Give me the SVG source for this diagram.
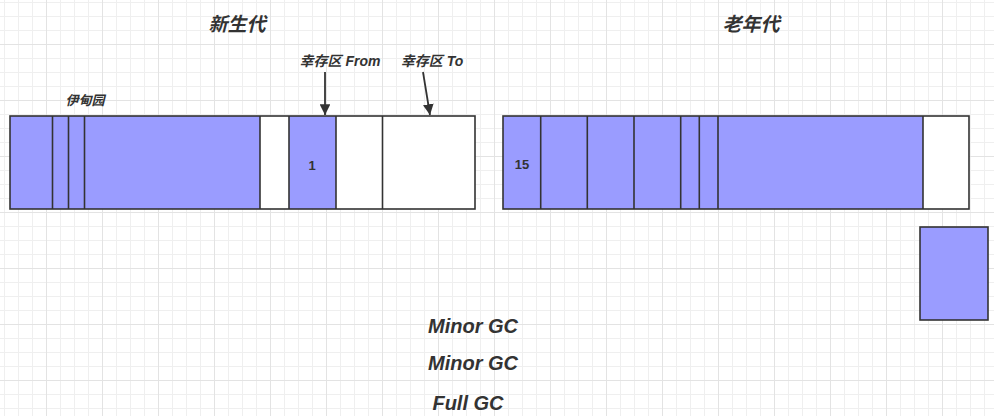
<svg xmlns="http://www.w3.org/2000/svg" width="994" height="416" viewBox="0 0 994 416">
<style>
.t{font-family:"Liberation Sans","Noto Sans CJK SC",sans-serif;font-weight:bold;font-style:italic;fill:#333}
.cell{stroke:#333;stroke-width:1.6}
.b{fill:#9a9cff}
.w{fill:#fff}
.div{stroke:#333;stroke-width:1.6}
.num{font-family:"Liberation Sans",sans-serif;font-weight:bold;font-size:13px;fill:#333;text-anchor:middle}
.arr{stroke:#333;stroke-width:1.8;fill:none}
</style>
<defs>
<pattern id="grid" patternUnits="userSpaceOnUse" x="46" y="44" width="56" height="56">
<rect x="14" y="0" width="1" height="56" fill="#efefef"/>
<rect x="28" y="0" width="1" height="56" fill="#efefef"/>
<rect x="42" y="0" width="1" height="56" fill="#efefef"/>
<rect x="0" y="14" width="56" height="1" fill="#efefef"/>
<rect x="0" y="28" width="56" height="1" fill="#efefef"/>
<rect x="0" y="42" width="56" height="1" fill="#efefef"/>
<rect x="0" y="0" width="1" height="56" fill="#e3e3e3"/>
<rect x="0" y="0" width="56" height="1" fill="#e3e3e3"/>
</pattern>
<marker id="ah" viewBox="0 0 10 10" refX="10" refY="5" markerWidth="6" markerHeight="6" markerUnits="strokeWidth" orient="auto">
<path d="M0,0 L10,5 L0,10 z" fill="#333"/>
</marker>
</defs>
<rect width="994" height="416" fill="#fff"/>
<rect width="994" height="416" fill="url(#grid)"/>

<g id="title-young"><text class="t" x="237" y="31" font-size="19" text-anchor="middle">新生代</text></g>
<g id="title-old"><text class="t" x="751" y="31" font-size="19" text-anchor="middle">老年代</text></g>
<g id="label-eden"><text class="t" x="85" y="105" font-size="13" text-anchor="middle">伊甸园</text></g>
<g id="label-from"><text class="t" x="340" y="66" font-size="14" text-anchor="middle">幸存区 From</text></g>
<g id="label-to"><text class="t" x="432" y="66" font-size="14" text-anchor="middle">幸存区 To</text></g>

<g id="young-gen">
<rect class="b" x="10" y="116" width="250" height="93"/>
<rect class="w" x="260" y="116" width="29" height="93"/>
<rect class="b" x="289" y="116" width="47" height="93"/>
<rect class="w" x="336" y="116" width="139" height="93"/>
<line class="div" x1="52.5" y1="116" x2="52.5" y2="209"/>
<line class="div" x1="68.5" y1="116" x2="68.5" y2="209"/>
<line class="div" x1="84.5" y1="116" x2="84.5" y2="209"/>
<line class="div" x1="260" y1="116" x2="260" y2="209"/>
<line class="div" x1="289" y1="116" x2="289" y2="209"/>
<line class="div" x1="336" y1="116" x2="336" y2="209"/>
<line class="div" x1="382.5" y1="116" x2="382.5" y2="209"/>
<rect x="10" y="116" width="465" height="93" fill="none" class="cell"/>
<text class="num" x="312" y="170">1</text>
</g>

<g id="old-gen">
<rect class="b" x="503" y="116" width="420" height="93"/>
<rect class="w" x="923" y="116" width="46" height="93"/>
<line class="div" x1="540.7" y1="116" x2="540.7" y2="209"/>
<line class="div" x1="587.3" y1="116" x2="587.3" y2="209"/>
<line class="div" x1="634" y1="116" x2="634" y2="209"/>
<line class="div" x1="680.7" y1="116" x2="680.7" y2="209"/>
<line class="div" x1="699.3" y1="116" x2="699.3" y2="209"/>
<line class="div" x1="718" y1="116" x2="718" y2="209"/>
<line class="div" x1="923" y1="116" x2="923" y2="209"/>
<rect x="503" y="116" width="466" height="93" fill="none" class="cell"/>
<text class="num" x="522" y="169">15</text>
</g>

<g id="promoted-object">
<rect class="b cell" x="920" y="227" width="68" height="93"/>
</g>

<g id="connectors">
<line class="arr" x1="325" y1="72" x2="325" y2="115" marker-end="url(#ah)"/>
<line class="arr" x1="423" y1="72" x2="430" y2="115" marker-end="url(#ah)"/>
</g>

<g id="gc-labels">
<text class="t" x="473" y="333" font-size="20" text-anchor="middle">Minor GC</text>
<text class="t" x="473" y="370" font-size="20" text-anchor="middle">Minor GC</text>
<text class="t" x="468" y="410" font-size="20" text-anchor="middle">Full GC</text>
</g>
</svg>
